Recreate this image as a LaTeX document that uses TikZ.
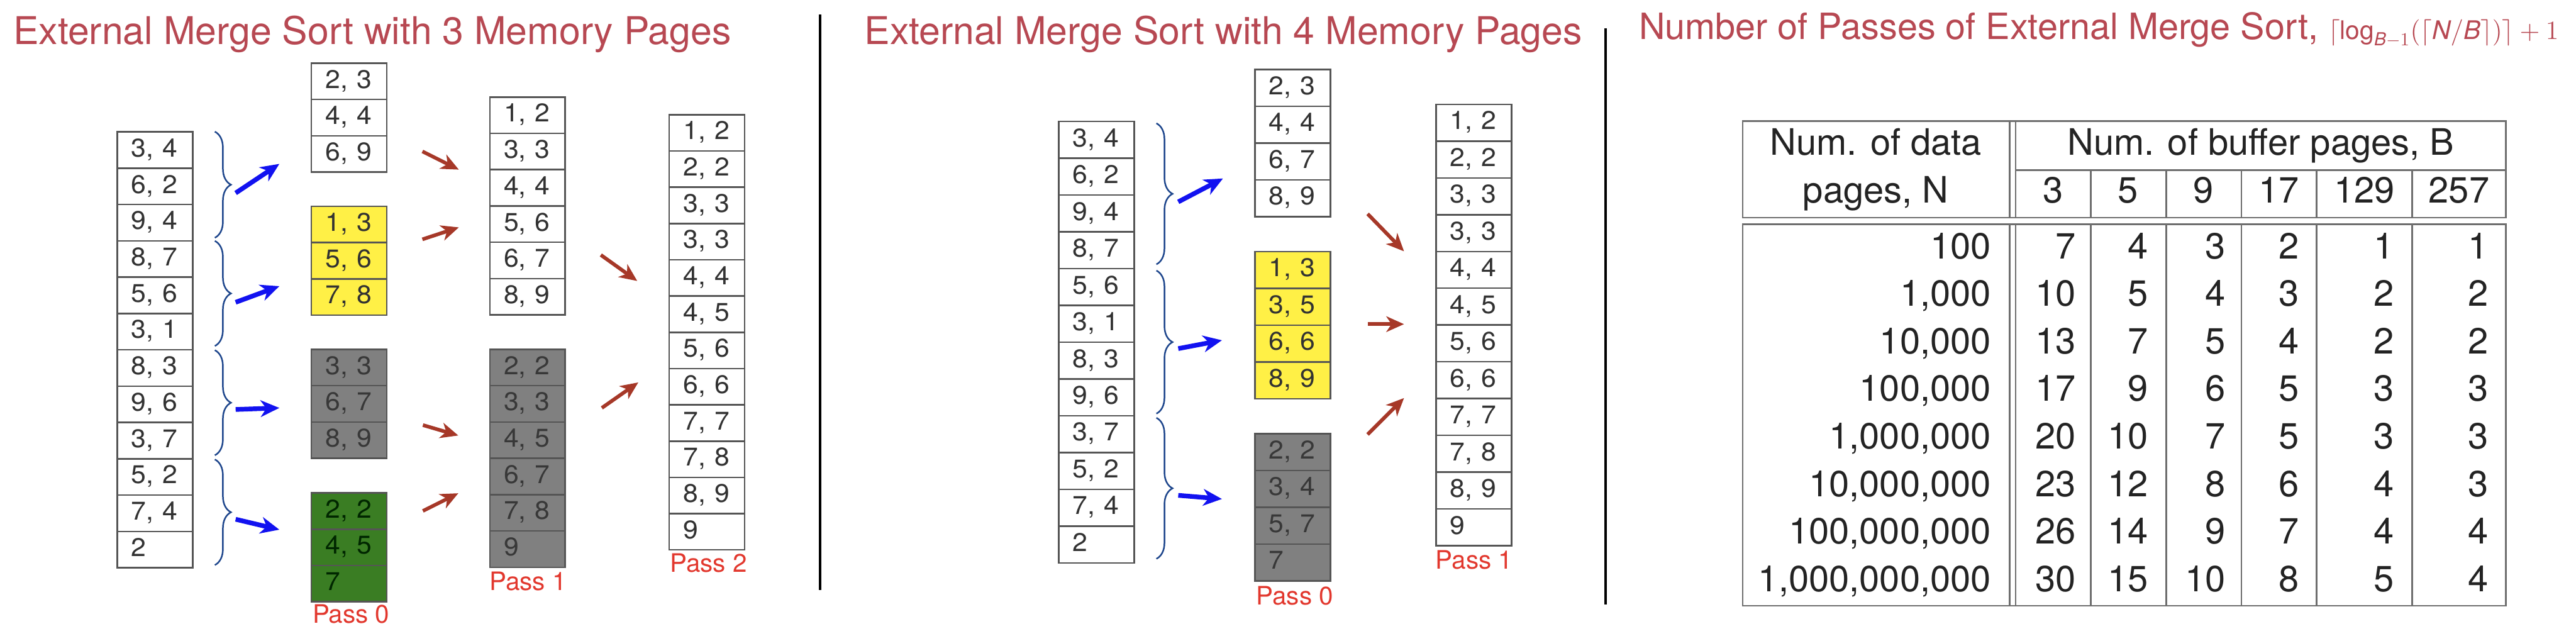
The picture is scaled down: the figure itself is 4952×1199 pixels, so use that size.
\documentclass[tikz,border=0pt]{standalone}
\usepackage{fontspec}
\usepackage{amsmath}
\usepackage{graphicx}
\setmainfont{TeX Gyre Heros}
\newfontfamily\cellfont{TeX Gyre Heros}
\usetikzlibrary{arrows.meta,decorations.pathreplacing}
\definecolor{titlered}{RGB}{183,72,82}
\definecolor{passred}{RGB}{226,56,46}
\definecolor{arrred}{RGB}{166,56,40}
\definecolor{arrblue}{RGB}{18,18,240}
\definecolor{bracec}{RGB}{30,70,140}
\definecolor{cyel}{RGB}{255,240,70}
\definecolor{cgray}{RGB}{128,128,128}
\definecolor{cgreen}{RGB}{58,125,35}
\definecolor{cellline}{RGB}{85,85,85}
\definecolor{celltext}{RGB}{50,50,50}
\definecolor{tabline}{RGB}{110,110,110}
\definecolor{tabtext}{RGB}{35,35,35}
\tikzset{
  cellbase/.style={draw=cellline, line width=0.3mm, rectangle, anchor=north west,
    text width=9.1mm, inner xsep=2.7mm, inner ysep=0pt, align=left,
    text height=3.5mm, text depth=0.9mm,
    font=\cellfont\fontsize{14}{16}\selectfont, text=celltext},
  cw/.style={cellbase, fill=white},
  cy/.style={cellbase, fill=cyel},
  cg/.style={cellbase, fill=cgray, text=black!78},
  cgr/.style={cellbase, fill=cgreen, text=black!75!green!60!black},
  titlestyle/.style={anchor=base west, inner sep=0pt, text=titlered},
  passlabel/.style={anchor=base, inner sep=0pt, text=passred, font=\fontsize{13.9}{16}\selectfont},
  bluearr/.style={draw=arrblue, line width=0.9mm, -{Stealth[length=3.6mm,width=3.2mm,inset=1.1mm]}},
  redarr/.style={draw=arrred, line width=0.7mm, -{Stealth[length=3.4mm,width=3mm,inset=1mm]}},
  bracestyle/.style={draw=bracec, line width=0.3mm, decorate, decoration={brace, amplitude=3.1mm}},
  divider/.style={draw=black, line width=0.5mm},
  tabline/.style={draw=tabline, line width=0.3mm},
  tabtxt/.style={inner sep=0pt, text=tabtext, font=\fontsize{19.9}{24}\selectfont},
}
\newcommand\mkrun[6]{%
  \foreach \t [count=\i] in {#6} {
    \node[#5, minimum height={#4*0.1mm}] (#1\i) at (#2, {#3+(\i-1)*#4}) {\scalebox{1.05}[1]{\t}};
  }%
}
\begin{document}
\begin{tikzpicture}[x=0.1mm, y=-0.1mm]
\useasboundingbox (0,0) rectangle (4952,1199);
\fill[white] (0,0) rectangle (4952,1199);

% ---------------- Titles ----------------
\node[titlestyle, font=\fontsize{20.9}{25}\selectfont] (title1) at (25,85) {External Merge Sort with 3 Memory Pages};
\node[titlestyle, font=\fontsize{20.9}{25}\selectfont] (title2) at (1661,85) {External Merge Sort with 4 Memory Pages};
\node[titlestyle, font=\fontsize{19.8}{24}\selectfont] (title3) at (3150,75) {Number of Passes of External Merge Sort, {\fontsize{14}{16}\selectfont$\lceil\text{log}_{\textit{B}-1}(\lceil\textit{N}/\textit{B}\rceil)\rceil+1$}};

% ---------------- Dividers ----------------
\coordinate (dv1t) at (1576,28); \coordinate (dv1b) at (1576,1134);
\coordinate (dv2t) at (3087,55); \coordinate (dv2b) at (3087,1162);
\draw[divider] (dv1t) -- (dv1b);
\draw[divider] (dv2t) -- (dv2b);

% ================ Diagram 1: 3 pages ================
\mkrun{ain}{224}{252}{69.8}{cw}{{3, 4},{6, 2},{9, 4},{8, 7},{5, 6},{3, 1},{8, 3},{9, 6},{3, 7},{5, 2},{7, 4},{2}}
\mkrun{apa}{597}{120}{69.7}{cw}{{2, 3},{4, 4},{6, 9}}
\mkrun{apb}{597}{395}{69.7}{cy}{{1, 3},{5, 6},{7, 8}}
\mkrun{apc}{597}{670}{69.7}{cg}{{3, 3},{6, 7},{8, 9}}
\mkrun{apd}{597}{946}{69.7}{cgr}{{2, 2},{4, 5},{7}}
\mkrun{aqa}{940}{185}{69.8}{cw}{{1, 2},{3, 3},{4, 4},{5, 6},{6, 7},{8, 9}}
\mkrun{aqb}{940}{670}{69.8}{cg}{{2, 2},{3, 3},{4, 5},{6, 7},{7, 8},{9}}
\mkrun{ara}{1285}{219}{69.7}{cw}{{1, 2},{2, 2},{3, 3},{3, 3},{4, 4},{4, 5},{5, 6},{6, 6},{7, 7},{7, 8},{8, 9},{9}}

\node[passlabel] (ap0) at (675,1197) {Pass 0};
\node[passlabel] (ap1) at (1015,1135) {Pass 1};
\node[passlabel] (ap2) at (1362,1100) {Pass 2};

% braces
\coordinate (abr1t) at (413,253); \coordinate (abr1b) at (413,457);
\coordinate (abr2t) at (413,463); \coordinate (abr2b) at (413,665);
\coordinate (abr3t) at (413,673); \coordinate (abr3b) at (413,875);
\coordinate (abr4t) at (413,883); \coordinate (abr4b) at (413,1086);
\draw[bracestyle] (abr1t) -- (abr1b);
\draw[bracestyle] (abr2t) -- (abr2b);
\draw[bracestyle] (abr3t) -- (abr3b);
\draw[bracestyle] (abr4t) -- (abr4b);

% blue arrows
\coordinate (ab1s) at (453,371); \coordinate (ab1e) at (537,315);
\coordinate (ab2s) at (453,581); \coordinate (ab2e) at (537,550);
\coordinate (ab3s) at (453,787); \coordinate (ab3e) at (537,784);
\coordinate (ab4s) at (453,998); \coordinate (ab4e) at (537,1018);
\draw[bluearr] (ab1s) -- (ab1e);
\draw[bluearr] (ab2s) -- (ab2e);
\draw[bluearr] (ab3s) -- (ab3e);
\draw[bluearr] (ab4s) -- (ab4e);

% red arrows
\coordinate (ar1s) at (812,291); \coordinate (ar1e) at (882,326);
\coordinate (ar2s) at (812,460); \coordinate (ar2e) at (882,437);
\coordinate (ar3s) at (813,817); \coordinate (ar3e) at (881,837);
\coordinate (ar4s) at (813,982); \coordinate (ar4e) at (881,948);
\coordinate (ar5s) at (1155,490); \coordinate (ar5e) at (1225,540);
\coordinate (ar6s) at (1157,784); \coordinate (ar6e) at (1227,735);
\draw[redarr] (ar1s) -- (ar1e);
\draw[redarr] (ar2s) -- (ar2e);
\draw[redarr] (ar3s) -- (ar3e);
\draw[redarr] (ar4s) -- (ar4e);
\draw[redarr] (ar5s) -- (ar5e);
\draw[redarr] (ar6s) -- (ar6e);

% ================ Diagram 2: 4 pages ================
\mkrun{bin}{2034}{232}{70.7}{cw}{{3, 4},{6, 2},{9, 4},{8, 7},{5, 6},{3, 1},{8, 3},{9, 6},{3, 7},{5, 2},{7, 4},{2}}
\mkrun{bpa}{2411}{132}{70.7}{cw}{{2, 3},{4, 4},{6, 7},{8, 9}}
\mkrun{bpb}{2411}{482}{70.7}{cy}{{1, 3},{3, 5},{6, 6},{8, 9}}
\mkrun{bpc}{2411}{832}{70.7}{cg}{{2, 2},{3, 4},{5, 7},{7}}
\mkrun{bqa}{2759}{199}{70.7}{cw}{{1, 2},{2, 2},{3, 3},{3, 3},{4, 4},{4, 5},{5, 6},{6, 6},{7, 7},{7, 8},{8, 9},{9}}

\node[passlabel] (bp0) at (2489,1162) {Pass 0};
\node[passlabel] (bp1) at (2834,1094) {Pass 1};

\coordinate (bbr1t) at (2223,237); \coordinate (bbr1b) at (2223,508);
\coordinate (bbr2t) at (2223,520); \coordinate (bbr2b) at (2223,795);
\coordinate (bbr3t) at (2223,803); \coordinate (bbr3b) at (2223,1074);
\draw[bracestyle] (bbr1t) -- (bbr1b);
\draw[bracestyle] (bbr2t) -- (bbr2b);
\draw[bracestyle] (bbr3t) -- (bbr3b);

\coordinate (bb1s) at (2265,388); \coordinate (bb1e) at (2351,343);
\coordinate (bb2s) at (2265,670); \coordinate (bb2e) at (2349,654);
\coordinate (bb3s) at (2265,952); \coordinate (bb3e) at (2349,959);
\draw[bluearr] (bb1s) -- (bb1e);
\draw[bluearr] (bb2s) -- (bb2e);
\draw[bluearr] (bb3s) -- (bb3e);

\coordinate (br1s) at (2629,411); \coordinate (br1e) at (2699,483);
\coordinate (br2s) at (2629,623); \coordinate (br2e) at (2699,623);
\coordinate (br3s) at (2629,835); \coordinate (br3e) at (2699,765);
\draw[redarr] (br1s) -- (br1e);
\draw[redarr] (br2s) -- (br2e);
\draw[redarr] (br3s) -- (br3e);

% ================ Table ================
\draw[tabline] (3350,233) rectangle (4817,418);
\draw[tabline] (3350,431) rectangle (4817,1164);
\draw[tabline] (3863,233) -- (3863,418);
\draw[tabline] (3875,233) -- (3875,418);
\draw[tabline] (3863,431) -- (3863,1164);
\draw[tabline] (3875,431) -- (3875,1164);
\draw[tabline] (3875,327) -- (4817,327);
\foreach \cx in {4019,4164,4309,4453,4637}{
  \draw[tabline] (\cx,327) -- (\cx,418);
  \draw[tabline] (\cx,431) -- (\cx,1164);
}
\node[tabtxt, anchor=base] (h1) at (3606,298) {Num. of data};
\node[tabtxt, anchor=base] (h2) at (3606,390) {pages, N};
\node[tabtxt, anchor=base] (h3) at (4346,298) {Num. of buffer pages, B};
\foreach \v/\cx [count=\j] in {3/3947,5/4091,9/4236,17/4381,129/4545,257/4727}{
  \node[tabtxt, anchor=base] (hb\j) at (\cx,390) {\v};
}
\foreach \nn/\va/\vb/\vc/\vd/\ve/\vf [count=\k from 0] in {
  100/7/4/3/2/1/1,
  {1,000}/10/5/4/3/2/2,
  {10,000}/13/7/5/4/2/2,
  {100,000}/17/9/6/5/3/3,
  {1,000,000}/20/10/7/5/3/3,
  {10,000,000}/23/12/8/6/4/3,
  {100,000,000}/26/14/9/7/4/4,
  {1,000,000,000}/30/15/10/8/5/4}{
  \node[tabtxt, anchor=base east] (rn\k) at (3828,{497+\k*91.4}) {\nn};
  \node[tabtxt, anchor=base east] (ra\k) at (3991,{497+\k*91.4}) {\va};
  \node[tabtxt, anchor=base east] (rb\k) at (4130,{497+\k*91.4}) {\vb};
  \node[tabtxt, anchor=base east] (rc\k) at (4279,{497+\k*91.4}) {\vc};
  \node[tabtxt, anchor=base east] (rd\k) at (4420,{497+\k*91.4}) {\vd};
  \node[tabtxt, anchor=base east] (re\k) at (4603,{497+\k*91.4}) {\ve};
  \node[tabtxt, anchor=base east] (rf\k) at (4784,{497+\k*91.4}) {\vf};
}
\end{tikzpicture}
\end{document}
